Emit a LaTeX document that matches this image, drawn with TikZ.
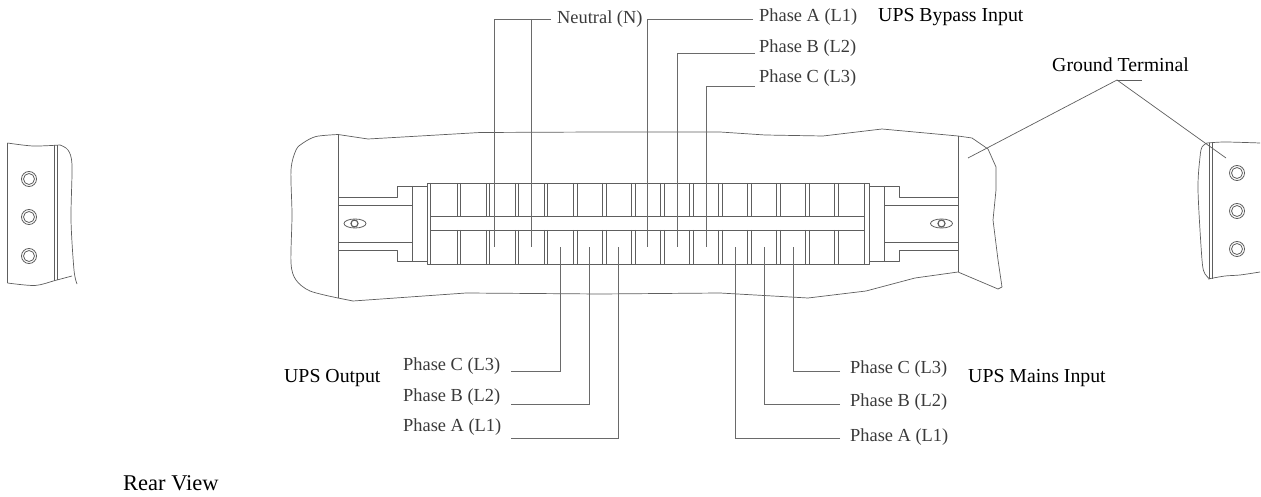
\documentclass[tikz,border=0pt]{standalone}
\usepackage{fontspec}
\setmainfont{Liberation Serif}
\definecolor{ln}{HTML}{5E5E5E}
\definecolor{lead}{HTML}{6A6A6A}
\definecolor{phs}{HTML}{3A3A3A}
\tikzset{
  part/.style={draw=ln,line width=0.8pt,line join=round},
  outline/.style={draw=ln,line width=0.7pt,line join=round},
  leader/.style={draw=lead,line width=0.9pt},
  phase/.style={anchor=west,inner sep=0pt,text=phs,font=\fontsize{18.4}{20}\selectfont},
  title/.style={anchor=west,inner sep=0pt,text=black,font=\fontsize{19.8}{21}\selectfont},
}
\begin{document}
\begin{tikzpicture}[x=1pt,y=-1pt]
\useasboundingbox (0,0) rectangle (1261,497);
% main panel outline
\draw[outline] plot[smooth,tension=0.5] coordinates {(338,134.5)(316,136.5)(303,143)(296,150)(291,170)(292,215)(291,263)(296,280)(310,291)(338,298)};
\draw[outline] (338,134.5)--(368,139)--(420,136)--(480,132.5)--(600,132)--(720,132)--(765,135)--(823,136)--(882,129)--(958,136)--(972,138)--(988,149)--(996,167)--(996,190)--(993,220)--(998,260)--(1002,287)--(998,289)--(958,272)--(915,278)--(866,291)--(808,298)--(755,295)--(720,293)--(600,294)--(466,293)--(353,301)--(338,298);
\draw[part] (338,134.5)--(338,298);
\draw[part] (958,136)--(958,272);
% left rail
\draw[part] (338,197.5)--(397,197.5)--(397,186)--(427,186);
\draw[part] (338,205)--(412,205);
\draw[part] (412,186)--(412,261);
\draw[part] (338,242)--(412,242);
\draw[part] (338,250)--(397,250)--(397,261)--(427,261);
% right rail
\draw[part] (958,197.5)--(899,197.5)--(899,186)--(869,186);
\draw[part] (958,205)--(884,205);
\draw[part] (884,186)--(884,261);
\draw[part] (958,242)--(884,242);
\draw[part] (958,250)--(899,250)--(899,261)--(869,261);
% slots
\draw[part] (355,223.5) ellipse[x radius=11,y radius=4.5];
\draw[part,line width=1.2pt] (354.5,223.5) circle[radius=3.5];
\draw[part] (941.5,223.5) ellipse[x radius=11,y radius=4.5];
\draw[part,line width=1.2pt] (941.5,223.5) circle[radius=3.5];
% terminal block
\draw[part] (427,183) rectangle (869,264);
\draw[part] (430,183)--(430,264);
\draw[part] (864,183)--(864,264);
\draw[part,line width=1pt] (430,217)--(864,217);
\draw[part] (430,230)--(864,230);
\foreach \k in {0,...,13}{
  \pgfmathsetmacro{\xa}{457+29.05*\k}
  \pgfmathsetmacro{\xb}{\xa+3.7}
  \draw[part] (\xa,183)--(\xa,217) (\xb,183)--(\xb,217);
  \draw[part] (\xa,230)--(\xa,264) (\xb,230)--(\xb,264);
}
% left bracket
\draw[outline] (7.5,143)--(7.5,283);
\draw[outline] plot[smooth,tension=0.5] coordinates {(7.5,143)(33,146)(60,145)};
\draw[outline] plot[smooth,tension=0.5] coordinates {(60,145)(68,150)(72,165)(71,220)(74,270)(77,284)};
\draw[outline] plot[smooth,tension=0.5] coordinates {(7.5,283)(35,285.5)(55,280.5)(72,276)};
\draw[part] (54,145)--(54,281) (57,145)--(57,280);
\foreach \y in {179,217,256}{
  \draw[part] (29,\y) circle[radius=7.5];
  \draw[part] (29,\y) circle[radius=5.5];
}
% right bracket
\draw[outline] plot[smooth,tension=0.5] coordinates {(1207,143)(1225,142)(1260,143)};
\draw[outline] plot[smooth,tension=0.5] coordinates {(1207,143)(1202,147)(1200,157)(1198,190)(1202,260)(1205,274)(1210,279)};
\draw[outline] plot[smooth,tension=0.5] coordinates {(1208,279)(1225,276)(1240,275)(1260,272)};
\draw[part] (1209,143)--(1209,279) (1212.5,143)--(1212.5,279);
\foreach \y in {173,211,249}{
  \draw[part] (1237,\y) circle[radius=7.5];
  \draw[part] (1237,\y) circle[radius=5.5];
}
% labels
\node[phase] (neutral) at (557,19) {Neutral (N)};
\node[phase] (bypA) at (759,17) {Phase A (L1)};
\node[phase] (bypB) at (759,48) {Phase B (L2)};
\node[phase] (bypC) at (759,78) {Phase C (L3)};
\node[title] (bypass) at (878,17) {UPS Bypass Input};
\node[title] (ground) at (1052,65) {Ground Terminal};
\node[phase] (outC) at (403,366) {Phase C (L3)};
\node[phase] (outB) at (403,397) {Phase B (L2)};
\node[phase] (outA) at (403,427) {Phase A (L1)};
\node[title] (output) at (284,378) {UPS Output};
\node[phase] (mainC) at (850,369) {Phase C (L3)};
\node[phase] (mainB) at (850,402) {Phase B (L2)};
\node[phase] (mainA) at (850,437) {Phase A (L1)};
\node[title] (mains) at (968,378) {UPS Mains Input};
\node[title,font=\fontsize{22.5}{24}\selectfont] (rear) at (123,483) {Rear View};
% connector ends
\foreach \n/\x/\y in {tN1/494/247,tN2/531/247,tA/647/247,tB/677/247,tC/706/247,
  oC/560/247,oB/589.5/247,oA/618.5/247,mA/735/247,mB/764/247,mC/793/247,
  g1/968/158,g2/1226/158,apex/1117/80,gs/1142/80}{
  \coordinate (\n) at (\x,\y);
}
\coordinate (nj) at (551,19);
\draw[leader] (nj) -| (tN1);
\draw[leader] (tN2 |- nj) -- (tN2);
\draw[leader] ([xshift=-6pt,yshift=-2pt]bypA.west) -| (tA);
\draw[leader] ([xshift=-4pt,yshift=-5pt]bypB.west) -| (tB);
\draw[leader] ([xshift=-4pt,yshift=-8pt]bypC.west) -| (tC);
\draw[leader] ([xshift=108pt,yshift=-5pt]outC.west) -| (oC);
\draw[leader] ([xshift=108pt,yshift=-7pt]outB.west) -| (oB);
\draw[leader] ([xshift=108pt,yshift=-11pt]outA.west) -| (oA);
\draw[leader] ([xshift=-10pt,yshift=-2pt]mainC.west) -| (mC);
\draw[leader] ([xshift=-10pt,yshift=-2pt]mainB.west) -| (mB);
\draw[leader] ([xshift=-10pt,yshift=-1pt]mainA.west) -| (mA);
\draw[outline] (g1) -- (apex) -- (g2);
\draw[outline] (apex) -- (gs);
\end{tikzpicture}
\end{document}
